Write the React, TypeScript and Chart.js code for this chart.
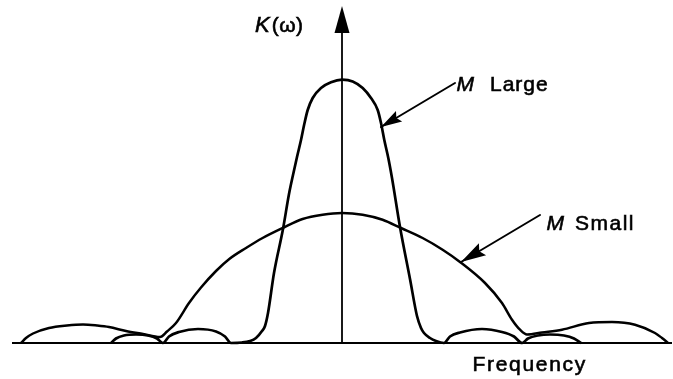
import React, { useEffect, useRef } from "react";
import { Chart, registerables } from "chart.js";

Chart.register(...registerables);

// Frequency offsets (arbitrary units) and window heights K(ω)
const largeOmega = [
  -231, -226, -218, -206, -194, -185, -179,
  -173, -163, -144, -126, -117, -111,
  -100, -92, -86, -80, -77, -74, -68, -59, -53, -49, -45, -41, -37.7, -34.3, -29.3, -21, -11, 0,
  10.7, 20.7, 29, 35.7, 39, 42.3, 46.3, 50, 58, 68, 75, 79, 82, 88, 94, 102,
  108, 118, 140, 160, 172, 180,
  186, 196, 208, 222, 232, 239,
];
const largeK = [
  0, 4.5, 7.5, 8.5, 7.5, 4.5, 0,
  6.5, 11, 14, 11.5, 6.5, 0,
  0.5, 2, 5, 12, 17, 30, 70, 114, 149, 168, 186, 203, 219, 233, 245, 255, 260.7, 263.3,
  261.6, 255, 245, 233, 220, 203, 185, 165, 116, 64, 27, 15, 10, 5, 2, 0,
  6.5, 10.5, 14, 11, 6.5, 0,
  4.5, 7.5, 8.5, 7.5, 4.5, 0,
];

const smallOmega = [
  -321, -316, -309, -293, -275, -259, -245, -233, -216, -199, -182,
  -175, -166, -153, -141, -126, -112.7, -96, -79.4, -59.4, -39.4, -19.4, 0,
  20.6, 40.6, 59, 80.6, 100.6, 117.3, 143, 160, 170, 178, 185,
  200, 220, 247, 270, 293, 313, 320, 326,
];
const smallK = [
  0, 5, 9.5, 15, 17.5, 18.5, 17.5, 16, 12, 9, 6,
  11.5, 20, 40, 55.5, 72, 84, 95, 105, 115, 124, 128.3, 130,
  128.3, 123.3, 115, 105, 93.3, 81.6, 60, 40, 23.3, 13.3, 8.5,
  10.5, 13.3, 20, 21, 18.3, 10, 5, 0,
];

const baseOmega = [-330, 330];
const baseK = [0, 0];
const vAxisOmega = [0, 0];
const vAxisK = [0, 312];

const seriesNames = ["M Large", "M Small"];

const toPts = (xs: number[], ys: number[]) => xs.map((x, i) => ({ x, y: ys[i] }));

const annotate = {
  id: "annotate",
  afterDatasetsDraw(chart: any) {
    const { ctx, scales } = chart;
    const xs = scales.x;
    const ys = scales.y;
    const px = (v: number) => xs.getPixelForValue(v);
    const py = (v: number) => ys.getPixelForValue(v);
    ctx.save();
    ctx.fillStyle = "#000";
    ctx.strokeStyle = "#000";
    ctx.lineCap = "round";

    const head = (tx: number, ty: number, fx: number, fy: number, len: number, half: number) => {
      const dx = tx - fx;
      const dy = ty - fy;
      const d = Math.hypot(dx, dy);
      const ux = dx / d;
      const uy = dy / d;
      const bx = tx - ux * len;
      const by = ty - uy * len;
      ctx.beginPath();
      ctx.moveTo(tx, ty);
      ctx.lineTo(bx - uy * half, by + ux * half);
      ctx.lineTo(bx + ux * len * 0.15, by + uy * len * 0.15);
      ctx.lineTo(bx + uy * half, by - ux * half);
      ctx.closePath();
      ctx.fill();
    };

    // vertical axis arrowhead
    ctx.beginPath();
    ctx.moveTo(px(0), py(337));
    ctx.lineTo(px(0) - 7.5, py(310));
    ctx.lineTo(px(0) + 7.5, py(310));
    ctx.closePath();
    ctx.fill();

    const pointer = (fw: number, fk: number, tw: number, tk: number, len: number, half: number) => {
      const fx = px(fw), fy = py(fk), tx = px(tw), ty = py(tk);
      ctx.lineWidth = 2;
      ctx.beginPath();
      ctx.moveTo(fx, fy);
      ctx.lineTo(tx, ty);
      ctx.stroke();
      head(tx, ty, fx, fy, len, half);
    };
    pointer(113, 260, 39, 216, 21, 6);
    pointer(198, 128, 119, 81, 25, 7);

    const draw = (t: string, x: number, y: number, font: string, spacing: string) => {
      ctx.font = font;
      (ctx as any).letterSpacing = spacing;
      ctx.textBaseline = "alphabetic";
      ctx.textAlign = "left";
      ctx.lineWidth = 0.6;
      ctx.fillText(t, x, y);
      ctx.strokeText(t, x, y);
      return ctx.measureText(t).width;
    };
    const fam = '"Liberation Sans", Arial, sans-serif';
    const kw = draw("K", px(-87), py(311), `italic 22px ${fam}`, "0px");
    draw("(ω)", px(-87) + kw + 2, py(311), `21px ${fam}`, "0.5px");
    draw("M", px(114.5), py(252), `italic 21px ${fam}`, "0px");
    draw(seriesNames[0].split(" ")[1], px(148), py(252), `21px ${fam}`, "1px");
    draw("M", px(204.5), py(113.5), `italic 21px ${fam}`, "0px");
    draw(seriesNames[1].split(" ")[1], px(233), py(113.5), `21px ${fam}`, "1.5px");
    draw("Frequency", px(130.5), py(-28), `21px ${fam}`, "1.7px");
    ctx.restore();
  },
};

export default function App() {
  const ref = useRef<HTMLCanvasElement | null>(null);
  useEffect(() => {
    if (!ref.current) return;
    const common = {
      borderColor: "#000",
      pointRadius: 0,
      fill: false,
      cubicInterpolationMode: "monotone" as const,
    };
    const chart = new Chart(ref.current, {
      type: "line",
      data: {
        datasets: [
          { ...common, label: seriesNames[0], data: toPts(largeOmega, largeK), borderWidth: 2.7 },
          { ...common, label: seriesNames[1], data: toPts(smallOmega, smallK), borderWidth: 2.5 },
          { ...common, label: "base", data: toPts(baseOmega, baseK), borderWidth: 2 },
          { ...common, label: "vaxis", data: toPts(vAxisOmega, vAxisK), borderWidth: 1.8 },
        ],
      },
      options: {
        animation: false,
        responsive: true,
        maintainAspectRatio: false,
        layout: { padding: 0 },
        plugins: { legend: { display: false }, tooltip: { enabled: false } },
        scales: {
          x: { type: "linear", min: -342, max: 331, display: false },
          y: { type: "linear", min: -36, max: 343, display: false },
        },
      },
      plugins: [annotate],
    });
    return () => chart.destroy();
  }, []);
  return (
    <div style={{ position: "fixed", left: 0, top: 0, width: 673, height: 379, background: "#fff" }}>
      <canvas ref={ref} />
    </div>
  );
}
